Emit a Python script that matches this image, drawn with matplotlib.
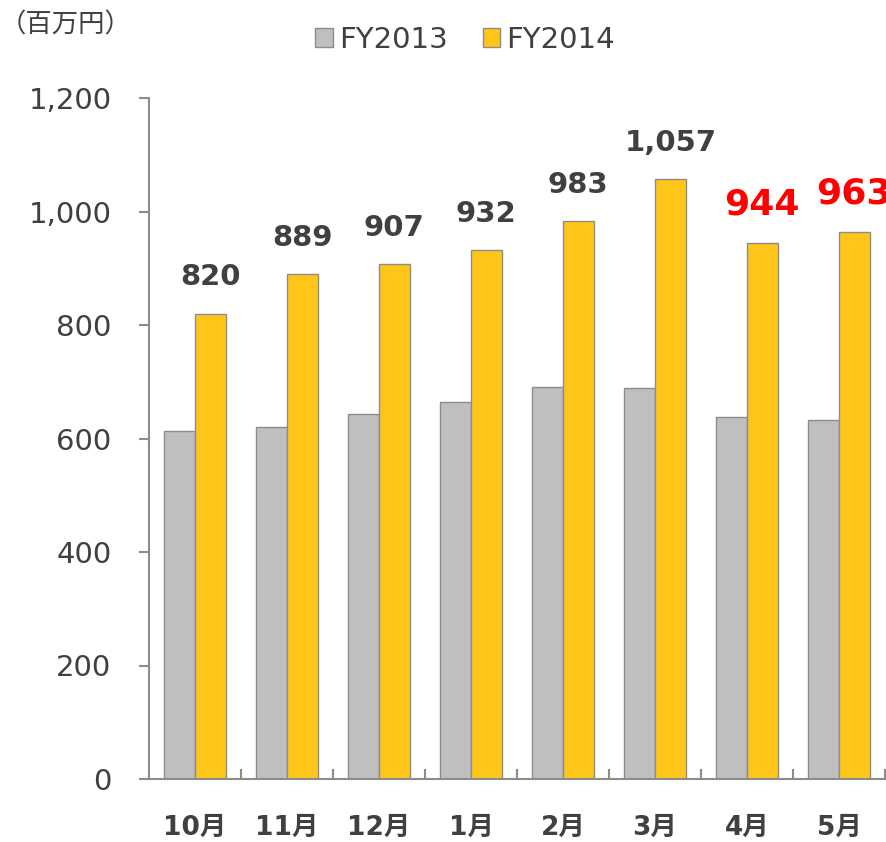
import matplotlib
matplotlib.use("Agg")
import matplotlib.pyplot as plt
from matplotlib.patches import Patch
import numpy as np

plt.rcParams['font.family'] = ['DejaVu Sans', 'Noto Sans CJK JP']

months = ['10月', '11月', '12月', '1月', '2月', '3月', '4月', '5月']
fy2013 = [613, 620, 644, 664, 691, 689, 638, 633]
fy2014 = [820, 889, 907, 932, 983, 1057, 944, 963]
label_red = [False, False, False, False, False, False, True, True]
yticks = [0, 200, 400, 600, 800, 1000, 1200]
series_names = ['FY2013', 'FY2014']
unit_label = '（百万円）'

c_gray = '#BFBFBF'
c_yellow = '#FFC61A'
c_edge = '#8C8C8C'
c_text = '#404040'
c_axis = '#8C8C8C'

fig = plt.figure(figsize=(8.86, 8.42), dpi=100)
ax = fig.add_axes([149/886, 1-779/842, (885-149)/886, (779-98)/842])

x = np.arange(len(months))
w = 0.333
ax.bar(x - w/2, fy2013, width=w, color=c_gray, edgecolor=c_edge, linewidth=1.0, zorder=2)
ax.bar(x + w/2, fy2014, width=w, color=c_yellow, edgecolor=c_edge, linewidth=1.0, zorder=2)

for xi, v, red in zip(x, fy2014, label_red):
    ax.annotate(f'{v:,}', xy=(xi + w/2, v), xytext=(0, 16), textcoords='offset points',
                ha='center', va='bottom', fontweight='bold',
                fontsize=26 if red else 21,
                color='#FF0000' if red else c_text, annotation_clip=False)

ax.set_xlim(-0.5, len(months) - 0.5)
ax.set_ylim(0, 1200)
ax.set_yticks(yticks)
ax.set_yticklabels([f'{t:,}' for t in yticks])
ax.set_xticks(x)
ax.set_xticklabels(months, fontweight='bold')
ax.set_xticks(np.arange(0.5, len(months)), minor=True)

for s in ['top', 'right']:
    ax.spines[s].set_visible(False)
for s in ['left', 'bottom']:
    ax.spines[s].set_color(c_axis)
    ax.spines[s].set_linewidth(1.5)

ax.tick_params(axis='y', direction='out', length=7, width=1.5, color=c_axis,
               labelsize=21, labelcolor=c_text, pad=20)
ax.tick_params(axis='x', which='major', length=0, labelsize=19, labelcolor=c_text, pad=26)
ax.tick_params(axis='x', which='minor', direction='in', length=7, width=1.5, color=c_axis)

handles = [Patch(facecolor=c_gray, edgecolor=c_edge), Patch(facecolor=c_yellow, edgecolor=c_edge)]
fig.legend(handles, series_names, loc='center', bbox_to_anchor=(465/886, 1-40/842), ncol=2,
           frameon=False, fontsize=21, labelcolor=c_text, handlelength=0.6, handleheight=0.6,
           handletextpad=0.2, columnspacing=1.2)

fig.text(0/886, 1-25/842, unit_label, fontsize=19, color=c_text, ha='left', va='center',
         family=['Noto Sans CJK JP', 'DejaVu Sans'])

fig.savefig('out.png', dpi=100)
